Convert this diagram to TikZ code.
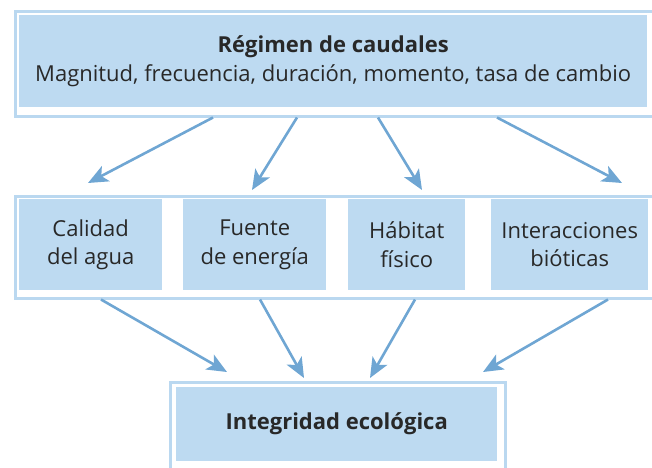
\documentclass[tikz,border=0pt]{standalone}
\usepackage{fontspec}
\setmainfont{Open Sans}
\usetikzlibrary{arrows.meta}
\definecolor{boxblue}{RGB}{189,218,241}
\definecolor{frameblue}{RGB}{186,216,240}
\definecolor{arrowblue}{RGB}{111,166,211}
\definecolor{txtgray}{RGB}{40,40,40}
\tikzset{
  frame/.style={draw=frameblue, line width=3pt, inner sep=0pt, anchor=north west},
  cell/.style={fill=boxblue, inner sep=0pt, anchor=north west, align=center,
    text=txtgray, font=\fontsize{22}{28.5}\selectfont},
  flow/.style={draw=arrowblue, line width=2.6pt,
    -{Stealth[length=20pt,width=17pt,inset=5pt]}}
}
\begin{document}
\begin{tikzpicture}[x=1pt,y=-1pt]
\useasboundingbox (0,0) rectangle (652,467);
\clip (0,0) rectangle (652,467);
\node[frame, minimum width=642pt, minimum height=105pt] (regimenframe) at (13.5,9.5) {};
\node[cell, minimum width=628pt, minimum height=92pt] (regimen) at (19,15)
  {\textbf{Régimen de caudales}\\Magnitud, frecuencia, duración, momento, tasa de cambio};
\node[frame, minimum width=642pt, minimum height=102pt] (factorframe) at (13.5,194.5) {};
\node[cell, minimum width=143pt, minimum height=91pt] (calidad) at (19,199) {Calidad\\del agua};
\node[cell, minimum width=143pt, minimum height=91pt] (fuente) at (183,199) {Fuente\\de energía};
\node[cell, minimum width=117pt, minimum height=91pt] (habitat) at (348,199) {Hábitat\\físico};
\node[cell, minimum width=157pt, minimum height=91pt] (bioticas) at (491,199) {Interacciones\\bióticas};
\node[frame, minimum width=335pt, minimum height=100pt] (integridadframe) at (168.5,380.5) {};
\node[cell, minimum width=321pt, minimum height=74pt] (integridad) at (176,387) {\textbf{Integridad ecológica}};
\draw[flow] (213,0 |- regimenframe.south) -- (88,183);
\draw[flow] (297,0 |- regimenframe.south) -- (252,190);
\draw[flow] (378,0 |- regimenframe.south) -- (422,190);
\draw[flow] (497,0 |- regimenframe.south) -- (622,183);
\draw[flow] (101,0 |- factorframe.south) -- (227,372);
\draw[flow] (260,0 |- factorframe.south) -- (304,378);
\draw[flow] (415,0 |- factorframe.south) -- (370,378);
\draw[flow] (608,0 |- factorframe.south) -- (483,372);
\end{tikzpicture}
\end{document}
